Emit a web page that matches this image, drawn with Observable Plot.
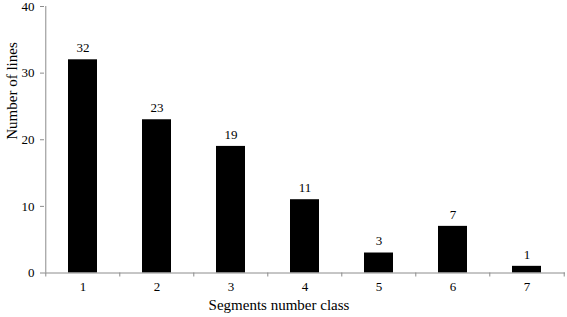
<!DOCTYPE html>
<html><head><meta charset="utf-8">
<script src="https://cdn.jsdelivr.net/npm/d3@7"></script>
<script src="https://cdn.jsdelivr.net/npm/@observablehq/plot@0.6"></script>
<style>
body{margin:0;background:#fff;}
svg{font-family:"Liberation Serif","Times New Roman",serif;}
</style></head>
<body><div id="chart"></div>
<script>
const categories = ["1","2","3","4","5","6","7"];
const values = [32,23,19,11,3,7,1];
const yTicks = [0,10,20,30,40];
const xLabel = "Segments number class";
const yLabel = "Number of lines";
const data = categories.map((c,i)=>({c, v: values[i]}));

const W = 567, H = 317, mL = 44, mR = 2, mT = 6, mB = 44.5;
const step = (W - mL - mR) / categories.length;
const axisColor = "#8c8c8c";

const chart = Plot.plot({
  width: W, height: H,
  marginLeft: mL, marginRight: mR, marginTop: mT, marginBottom: mB,
  style: {fontFamily: "'Liberation Serif', serif", fontSize: "13px", color: "#000", background: "#fff"},
  x: {domain: categories, paddingInner: 0.61, paddingOuter: 0.305},
  y: {domain: [0, 40]},
  marks: [
    Plot.barY(data, {x: "c", y: "v", fill: "#000"}),
    Plot.text(data, {x: "c", y: "v", text: d => String(d.v), dy: -12, fontSize: 13, fill: "#000"}),
    Plot.ruleY([0], {stroke: axisColor}),
    Plot.ruleX([categories[0]], {x: d => d, dx: -step/2, stroke: axisColor}),
    Plot.ruleX(categories, {x: d => d, dx: -step/2, stroke: axisColor, insetTop: H - mT - mB, insetBottom: -4}),
    Plot.ruleX([categories[categories.length-1]], {x: d => d, dx: step/2, stroke: axisColor, insetTop: H - mT - mB, insetBottom: -4}),
    Plot.axisY({ticks: yTicks, tickSize: 4, tickPadding: 6, stroke: axisColor, fill: "#000", fontSize: 13, label: null}),
    Plot.axisX({tickSize: 0, tickPadding: 9, fill: "#000", fontSize: 13, label: null}),
    Plot.text([xLabel], {frameAnchor: "bottom", dx: -26, dy: 37, fontSize: 15, fill: "#000"}),
    Plot.text([yLabel], {frameAnchor: "left", dx: -32, rotate: -90, fontSize: 15, fill: "#000"})
  ]
});
document.getElementById("chart").appendChild(chart);
</script></body></html>
